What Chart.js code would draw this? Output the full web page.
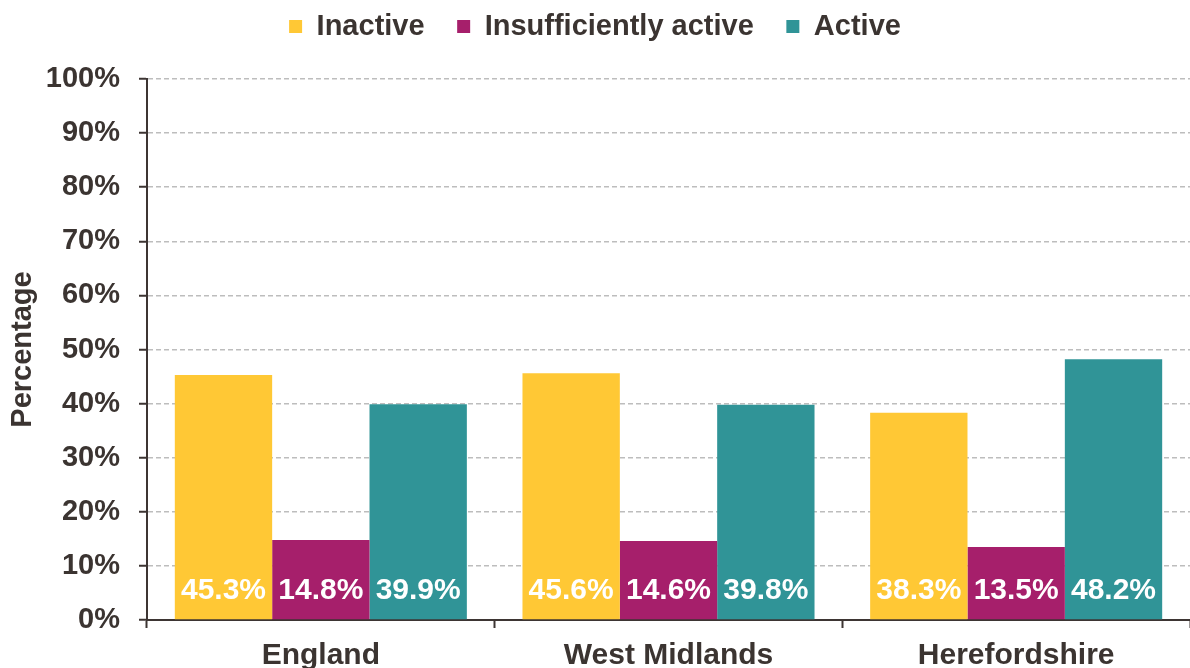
<!DOCTYPE html>
<html>
<head>
<meta charset="utf-8">
<script src="https://cdn.jsdelivr.net/npm/chart.js@4.4.1/dist/chart.umd.min.js"></script>
<style>
  html, body { margin: 0; padding: 0; background: #ffffff; overflow: hidden; }
  #wrap { width: 1190px; height: 684px; }
</style>
</head>
<body>
<div id="wrap"><canvas id="c" width="1190" height="684"></canvas></div>
<script>
const categories = ['England', 'West Midlands', 'Herefordshire'];
const seriesNames = ['Inactive', 'Insufficiently active', 'Active'];
const inactive = [45.3, 45.6, 38.3];
const insufficientlyActive = [14.8, 14.6, 13.5];
const active = [39.9, 39.8, 48.2];
const yTicks = [0, 10, 20, 30, 40, 50, 60, 70, 80, 90, 100];

const TEXT = '#3b3431';
const AXIS = '#3d3533';
const GRID = '#bdbdbd';
const COLORS = ['#FFC835', '#A61F6B', '#309497'];

Chart.defaults.font.family = "'Liberation Sans', Arial, sans-serif";

const legendSpacer = {
  id: 'legendSpacer',
  beforeLayout(chart) {
    const lg = chart.legend;
    if (lg && !lg._patched) {
      const orig = lg.fit;
      lg.fit = function () { orig.call(this); this.height += 28; };
      lg._patched = true;
    }
  }
};

const barLabels = {
  id: 'barLabels',
  afterDatasetsDraw(chart) {
    const ctx = chart.ctx;
    ctx.save();
    ctx.font = "bold 30px 'Liberation Sans', Arial, sans-serif";
    ctx.fillStyle = '#ffffff';
    ctx.textAlign = 'center';
    ctx.textBaseline = 'middle';
    chart.data.datasets.forEach((ds, i) => {
      const meta = chart.getDatasetMeta(i);
      meta.data.forEach((bar, j) => {
        ctx.fillText(ds.data[j].toFixed(1) + '%', bar.x, bar.base - 29);
      });
    });
    ctx.restore();
  }
};

const seriesData = [inactive, insufficientlyActive, active];

new Chart(document.getElementById('c'), {
  type: 'bar',
  data: {
    labels: categories,
    datasets: seriesNames.map((name, i) => ({
      label: name,
      data: seriesData[i],
      backgroundColor: COLORS[i],
      borderWidth: 0,
      barPercentage: 1.0,
      categoryPercentage: 0.84
    }))
  },
  options: {
    responsive: false,
    animation: false,
    layout: { padding: { left: 0, right: 0, top: 2, bottom: 0 } },
    plugins: {
      tooltip: { enabled: false },
      legend: {
        position: 'top',
        labels: {
          boxWidth: 13,
          boxHeight: 13,
          padding: 10,
          color: TEXT,
          font: { size: 29, weight: 'bold' },
          generateLabels(chart) {
            return chart.data.datasets.map((ds, i) => ({
              text: i < chart.data.datasets.length - 1 ? ds.label + '\u2002 ' : ds.label,
              fillStyle: ds.backgroundColor,
              strokeStyle: ds.backgroundColor,
              lineWidth: 0,
              hidden: false,
              datasetIndex: i,
              fontColor: TEXT
            }));
          }
        }
      }
    },
    scales: {
      x: {
        grid: {
          display: true,
          drawOnChartArea: false,
          drawTicks: true,
          tickLength: 8,
          tickColor: AXIS,
          tickWidth: 2,
          offset: true
        },
        border: { display: true, color: AXIS, width: 2 },
        ticks: {
          color: TEXT,
          font: { size: 30, weight: 'bold' },
          padding: 10,
          maxRotation: 0
        }
      },
      y: {
        min: 0,
        max: 100,
        afterBuildTicks(scale) { scale.ticks = yTicks.map(v => ({ value: v })); },
        afterFit(scale) { scale.width = 147; },
        grid: {
          color: GRID,
          lineWidth: 1.5,
          drawTicks: true,
          tickLength: 8,
          tickColor: AXIS,
          tickWidth: 2
        },
        border: { display: true, color: AXIS, width: 2, dash: [5, 3] },
        ticks: {
          color: TEXT,
          font: { size: 29, weight: 'bold' },
          padding: 19,
          callback: v => v + '%'
        },
        title: {
          display: true,
          text: 'Percentage',
          color: TEXT,
          font: { size: 29, weight: 'bold' },
          padding: { top: 6, bottom: 0 }
        }
      }
    }
  },
  plugins: [legendSpacer, barLabels]
});
</script>
</body>
</html>
